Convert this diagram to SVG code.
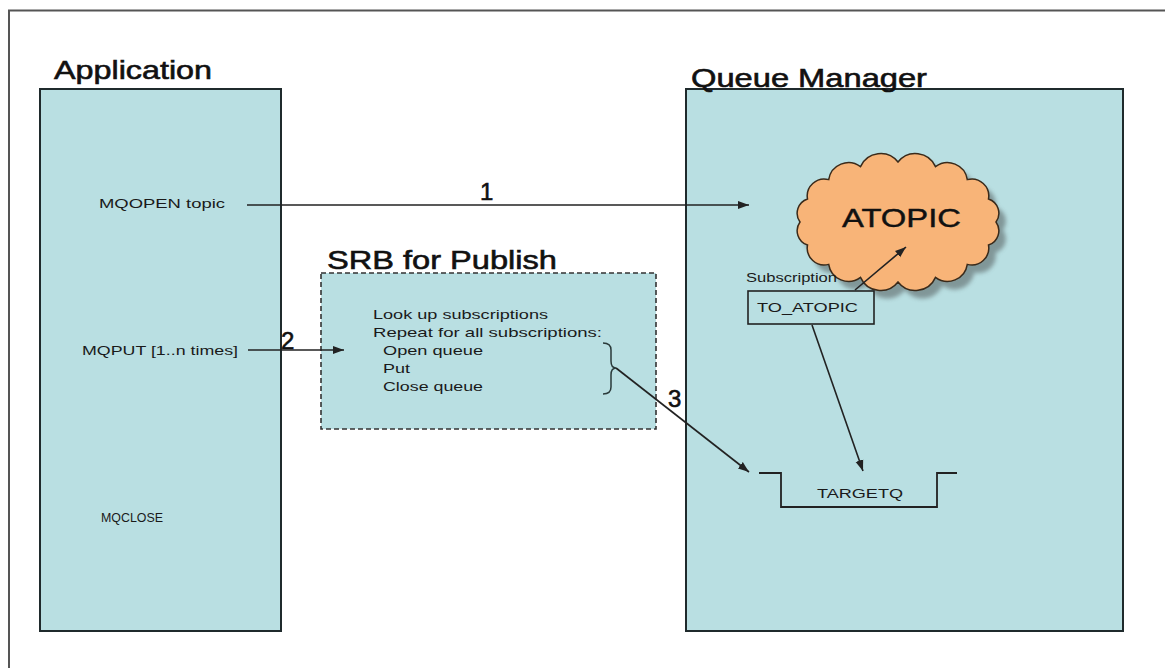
<svg xmlns="http://www.w3.org/2000/svg" width="1165" height="668" viewBox="0 0 1165 668">
  <style>
    .panel { fill: #b9dfe2; stroke: #1f2a2c; stroke-width: 2; }
    .title { font-family: "Liberation Sans", Arial, sans-serif; font-size: 26px; fill: #111; stroke: #111; stroke-width: 0.6; }
    .label { font-family: "Liberation Sans", Arial, sans-serif; font-size: 13px; fill: #1a1a1a; }
    .num { font-family: "Liberation Sans", Arial, sans-serif; font-size: 24px; fill: #111; stroke: #111; stroke-width: 0.6; }
    .conn { fill: none; stroke: #222; stroke-width: 1.6; }
  </style>
  <defs>
    <marker id="arrow" markerWidth="12" markerHeight="10" refX="11" refY="5" orient="auto" markerUnits="userSpaceOnUse">
      <path d="M0,1 L11,5 L0,9 Z" fill="#222"/>
    </marker>
    <filter id="soft" x="-10%" y="-10%" width="130%" height="130%">
      <feGaussianBlur stdDeviation="2"/>
    </filter>
    <!-- scalloped cloud outline: sixteen arcs round an ellipse -->
    <path id="cloudShape" d="M800,222 A15,15 0 0 1 807.5,199 A17,17 0 0 1 828.7,179.6 A20,20 0 0 1 860.5,166.6 A22,22 0 0 1 898,162 A22,22 0 0 1 935.5,166.6 A20,20 0 0 1 967.3,179.6 A17,17 0 0 1 988.5,199 A15,15 0 0 1 996,222 A15,15 0 0 1 988.5,245 A17,17 0 0 1 967.3,264.4 A20,20 0 0 1 935.5,277.4 A22,22 0 0 1 898,282 A22,22 0 0 1 860.5,277.4 A20,20 0 0 1 828.7,264.4 A17,17 0 0 1 807.5,245 A15,15 0 0 1 800,222 Z"/>
  </defs>

  <rect width="1165" height="668" fill="#ffffff"/>

  <!-- page frame -->
  <path d="M9,668 L9,10.5 L1165,10.5" fill="none" stroke="#555" stroke-width="2"/>

  <!-- Application lane -->
  <g id="application">
    <rect class="panel" x="40" y="89" width="241" height="542"/>
    <text class="title" x="54" y="79" textLength="158" lengthAdjust="spacingAndGlyphs">Application</text>
    <text class="label" x="99" y="208" textLength="126" lengthAdjust="spacingAndGlyphs">MQOPEN topic</text>
    <text class="label" x="82" y="355" textLength="156" lengthAdjust="spacingAndGlyphs">MQPUT [1..n times]</text>
    <text class="label" x="101" y="522" textLength="62" lengthAdjust="spacingAndGlyphs">MQCLOSE</text>
  </g>

  <!-- Queue manager lane -->
  <g id="queue-manager">
    <rect class="panel" x="686" y="89" width="437" height="542"/>
    <text class="title" x="691" y="87" textLength="236" lengthAdjust="spacingAndGlyphs">Queue Manager</text>
  </g>

  <!-- SRB for publish -->
  <g id="srb-publish">
    <rect x="321" y="273" width="335" height="156" fill="#b9dfe2" stroke="#333" stroke-width="1.6" stroke-dasharray="5,3"/>
    <text class="title" x="327" y="269" textLength="230" lengthAdjust="spacingAndGlyphs">SRB for Publish</text>
    <text class="label" x="373" y="319" textLength="175" lengthAdjust="spacingAndGlyphs">Look up subscriptions</text>
    <text class="label" x="373" y="337" textLength="229" lengthAdjust="spacingAndGlyphs">Repeat for all subscriptions:</text>
    <text class="label" x="383" y="355" textLength="100" lengthAdjust="spacingAndGlyphs">Open queue</text>
    <text class="label" x="383" y="373" textLength="27" lengthAdjust="spacingAndGlyphs">Put</text>
    <text class="label" x="383" y="391" textLength="100" lengthAdjust="spacingAndGlyphs">Close queue</text>
    <path d="M603,343 Q611,343 611,350 L611,361 Q611,368 616,368 Q611,368 611,375 L611,387 Q611,394 603,394" fill="none" stroke="#2a3a3a" stroke-width="1.5"/>
  </g>

  <!-- Topic cloud -->
  <g id="atopic">
    <use href="#cloudShape" transform="translate(7,8)" fill="#6e7f80" opacity="0.75" filter="url(#soft)"/>
    <use href="#cloudShape" fill="#f8b478" stroke="#3a2a1a" stroke-width="1.5"/>
    <text x="842" y="227" font-family="'Liberation Sans', Arial, sans-serif" font-size="25" fill="#111" stroke="#111" stroke-width="0.4" textLength="119" lengthAdjust="spacingAndGlyphs">ATOPIC</text>
  </g>

  <!-- Subscription -->
  <g id="subscription">
    <text class="label" x="746" y="282" font-size="12" textLength="91" lengthAdjust="spacingAndGlyphs">Subscription</text>
    <rect x="748" y="291" width="126" height="33" fill="#b9dfe2" stroke="#222" stroke-width="1.6"/>
    <text class="label" x="757" y="312" textLength="101" lengthAdjust="spacingAndGlyphs">TO_ATOPIC</text>
  </g>

  <!-- Target queue -->
  <g id="targetq">
    <path d="M759,473 L781,473 L781,507 L937,507 L937,473 L957,473" fill="none" stroke="#222" stroke-width="1.8"/>
    <text class="label" x="817" y="498" textLength="86" lengthAdjust="spacingAndGlyphs">TARGETQ</text>
  </g>

  <!-- Connectors -->
  <g id="connectors">
    <line class="conn" x1="247" y1="205" x2="749" y2="205" marker-end="url(#arrow)"/>
    <text class="num" x="480" y="200">1</text>
    <line class="conn" x1="248" y1="350" x2="344" y2="350" marker-end="url(#arrow)"/>
    <text class="num" x="281" y="349">2</text>
    <line class="conn" x1="616" y1="368" x2="749" y2="472" marker-end="url(#arrow)"/>
    <text class="num" x="668" y="407">3</text>
    <line class="conn" x1="855" y1="290" x2="906" y2="247" marker-end="url(#arrow)"/>
    <line class="conn" x1="812" y1="325" x2="863" y2="471" marker-end="url(#arrow)"/>
  </g>
</svg>
